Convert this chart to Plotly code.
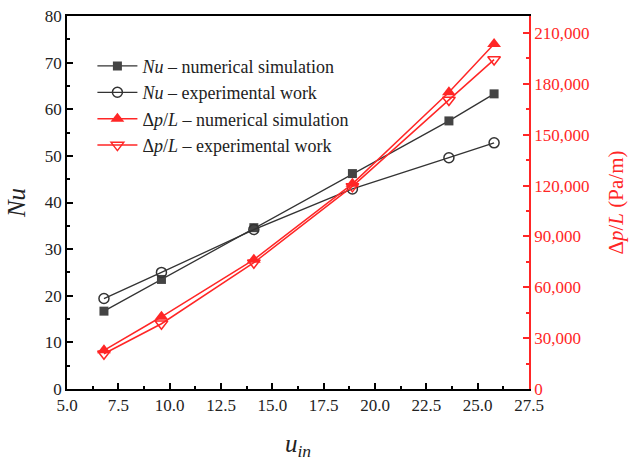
import plotly.graph_objects as go

u_in = [6.8, 9.6, 14.1, 18.9, 23.6, 25.8]
nu_sim = [16.7, 23.5, 34.6, 46.2, 57.5, 63.3]
nu_exp = [19.4, 25.0, 34.2, 42.9, 49.6, 52.8]
dp_sim = [22800, 42600, 76300, 121000, 175000, 203500]
dp_exp = [20800, 38500, 74500, 119500, 170500, 194300]

BLACK = "#333333"
RED = "#ff2626"
FONT = "'Liberation Serif', 'Times New Roman', serif"

fig = go.Figure()
fig.add_trace(go.Scatter(x=u_in, y=nu_sim, mode="lines+markers",
                         name="<i>Nu</i> – numerical simulation",
                         line=dict(color=BLACK, width=1.3),
                         marker=dict(symbol="square", size=9, color="#444444")))
fig.add_trace(go.Scatter(x=u_in, y=nu_exp, mode="lines+markers",
                         name="<i>Nu</i> – experimental work",
                         line=dict(color=BLACK, width=1.3),
                         marker=dict(symbol="circle-open", size=10, color=BLACK, line=dict(width=1.5))))
fig.add_trace(go.Scatter(x=u_in, y=dp_sim, mode="lines+markers", yaxis="y2",
                         name="Δ<i>p</i>/<i>L</i> – numerical simulation",
                         line=dict(color=RED, width=1.5),
                         marker=dict(symbol="triangle-up", size=12, color=RED)))
fig.add_trace(go.Scatter(x=u_in, y=dp_exp, mode="lines+markers", yaxis="y2",
                         name="Δ<i>p</i>/<i>L</i> – experimental work",
                         line=dict(color=RED, width=1.5),
                         marker=dict(symbol="triangle-down-open", size=11, color=RED, line=dict(width=1.5))))

fig.update_layout(
    width=634, height=462,
    margin=dict(l=67, r=105, t=16, b=73),
    paper_bgcolor="white", plot_bgcolor="white",
    font=dict(family=FONT, size=17, color="#222222"),
    showlegend=True,
    legend=dict(x=0.055, y=0.915, xanchor="left", yanchor="top",
                bgcolor="rgba(0,0,0,0)", font=dict(family=FONT, size=18, color="#222222"),
                tracegroupgap=0, itemwidth=40),
    xaxis=dict(range=[5, 27.5], tick0=5, dtick=2.5, tickformat=".1f",
               showgrid=False, zeroline=False, automargin=False,
               showline=True, linecolor="black", linewidth=1.5, mirror=True,
               ticks="inside", ticklen=6, tickcolor="black", tickwidth=1.5,
               minor=dict(ticks="inside", ticklen=3, dtick=1.25, tickcolor="black", tickwidth=1.5),
               tickfont=dict(family=FONT, size=17, color="#222222"),
               title=dict(text="<i>u<sub>in</sub></i>", font=dict(family=FONT, size=25, color="#222222"), standoff=20)),
    yaxis=dict(range=[0, 80], dtick=10, showgrid=False, zeroline=False, automargin=False,
               showline=True, linecolor="black", linewidth=1.5,
               ticks="inside", ticklen=6, tickcolor="black", tickwidth=1.5,
               minor=dict(ticks="inside", ticklen=3, dtick=5, tickcolor="black", tickwidth=1.5),
               tickfont=dict(family=FONT, size=17, color="#222222"),
               title=dict(text="<i>Nu</i>", font=dict(family=FONT, size=25, color="#222222"), standoff=12)),
    yaxis2=dict(range=[0, 220000], dtick=30000, overlaying="y", side="right",
                showgrid=False, zeroline=False, tickformat=",d", automargin=False,
                showline=True, linecolor=RED, linewidth=1.5,
                ticks="inside", ticklen=6, tickcolor=RED, tickwidth=1.5,
                minor=dict(ticks="inside", ticklen=3, dtick=15000, tickcolor=RED, tickwidth=1.5),
                tickfont=dict(family=FONT, size=17, color=RED),
                title=dict(text="Δ<i>p</i>/<i>L</i> (Pa/m)", font=dict(family=FONT, size=21, color=RED), standoff=20)),
)

fig.write_html("out.html")
